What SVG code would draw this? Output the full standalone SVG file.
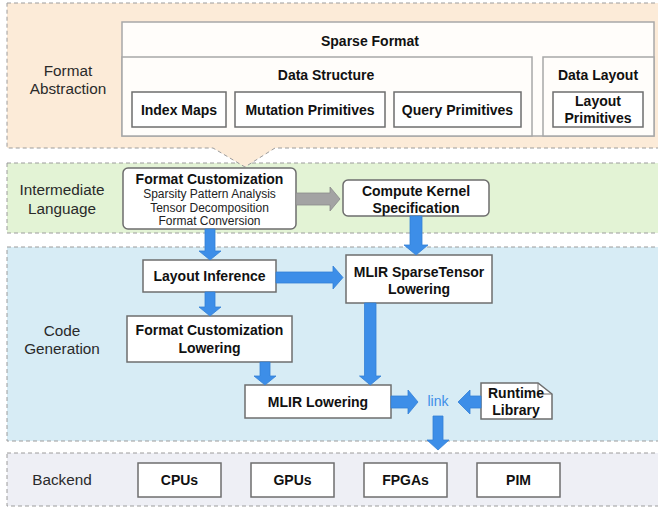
<svg xmlns="http://www.w3.org/2000/svg" width="658" height="510" viewBox="0 0 658 510">
  <style>
    .band { stroke: #9c9c9c; stroke-width: 1; stroke-dasharray: 4 3; }
    .box { fill: #ffffff; stroke: #6e6e6e; stroke-width: 1.5; }
    .frame { fill: #fffdfa; stroke: #a8a8a8; stroke-width: 1.5; }
    .lbl { font-family: "Liberation Sans", Arial, sans-serif; font-size: 14px; font-weight: bold; fill: #111; text-anchor: middle; }
    .sub { font-family: "Liberation Sans", Arial, sans-serif; font-size: 12px; fill: #222; text-anchor: middle; }
    .sec { font-family: "Liberation Sans", Arial, sans-serif; font-size: 15.3px; fill: #2a2a2a; text-anchor: middle; }
    .blue { fill: #3d8ee8; stroke: #3380d6; stroke-width: 0.8; }
    .gray { fill: #a3a3a3; stroke: #8a8a8a; stroke-width: 0.8; }
    .link { font-family: "Liberation Sans", Arial, sans-serif; font-size: 14px; fill: #3d8ee8; text-anchor: middle; }
  </style>

  <!-- layer bands -->
  <g id="bands">
    <rect class="band" x="7" y="163" width="660" height="70" fill="#e3f3d5"/>
    <path class="band" d="M7,3 H667 V148 H275 L245,167 L213,148 H7 Z" fill="#fcebd8"/>
    <rect class="band" x="7" y="247" width="660" height="194" fill="#d7ecf5"/>
    <rect class="band" x="7" y="453" width="660" height="53" fill="#eeeff5"/>
    <text class="sec" x="68" y="75.5">Format</text>
    <text class="sec" x="68" y="93.5">Abstraction</text>
    <text class="sec" x="62" y="194.5">Intermediate</text>
    <text class="sec" x="62" y="213.5">Language</text>
    <text class="sec" x="62" y="335.5">Code</text>
    <text class="sec" x="62" y="353.5">Generation</text>
    <text class="sec" x="62" y="484.5">Backend</text>
  </g>

  <!-- format abstraction -->
  <g id="sparse-format">
    <rect class="frame" x="122" y="22" width="532" height="114"/>
    <text class="lbl" x="370" y="45.5">Sparse Format</text>
  </g>
  <g id="data-structure">
    <rect class="frame" x="122" y="57" width="410" height="79"/>
    <text class="lbl" x="326" y="80">Data Structure</text>
  </g>
  <g id="data-layout">
    <rect class="frame" x="543" y="57" width="111" height="79"/>
    <text class="lbl" x="598" y="80">Data Layout</text>
  </g>
  <g id="index-maps">
    <rect class="box" x="132" y="92" width="94" height="35"/>
    <text class="lbl" x="179" y="115">Index Maps</text>
  </g>
  <g id="mutation-primitives">
    <rect class="box" x="235" y="92" width="150" height="35"/>
    <text class="lbl" x="310" y="115">Mutation Primitives</text>
  </g>
  <g id="query-primitives">
    <rect class="box" x="394" y="92" width="127" height="35"/>
    <text class="lbl" x="457.5" y="115">Query Primitives</text>
  </g>
  <g id="layout-primitives">
    <rect class="box" x="553" y="92" width="90" height="35"/>
    <text class="lbl" x="598" y="106">Layout</text>
    <text class="lbl" x="598" y="123">Primitives</text>
  </g>

  <!-- intermediate language -->
  <g id="format-customization">
    <rect class="box" x="123" y="168" width="173" height="61" rx="5"/>
    <text class="lbl" x="209.5" y="184">Format Customization</text>
    <text class="sub" x="209.5" y="198">Sparsity Pattern Analysis</text>
    <text class="sub" x="209.5" y="211.5">Tensor Decomposition</text>
    <text class="sub" x="209.5" y="225">Format Conversion</text>
  </g>
  <g id="compute-kernel">
    <rect class="box" x="343" y="180" width="146" height="36" rx="5"/>
    <text class="lbl" x="416" y="196">Compute Kernel</text>
    <text class="lbl" x="416" y="213">Specification</text>
  </g>

  <!-- code generation -->
  <g id="layout-inference">
    <rect class="box" x="143" y="260" width="133" height="32"/>
    <text class="lbl" x="209.5" y="281">Layout Inference</text>
  </g>
  <g id="mlir-sparsetensor">
    <rect class="box" x="346" y="255" width="146" height="48"/>
    <text class="lbl" x="419" y="277">MLIR SparseTensor</text>
    <text class="lbl" x="419" y="294">Lowering</text>
  </g>
  <g id="format-customization-lowering">
    <rect class="box" x="127" y="316" width="165" height="46"/>
    <text class="lbl" x="209.5" y="335">Format Customization</text>
    <text class="lbl" x="209.5" y="353">Lowering</text>
  </g>
  <g id="mlir-lowering">
    <rect class="box" x="245" y="385" width="146" height="33"/>
    <text class="lbl" x="318" y="407">MLIR Lowering</text>
  </g>
  <g id="link">
    <text class="link" x="438" y="406">link</text>
  </g>
  <g id="runtime-library">
    <path class="box" d="M481,383 H538 L552,394 V419 H481 Z"/>
    <path d="M538,383 V394 H552" fill="none" stroke="#6e6e6e" stroke-width="1"/>
    <text class="lbl" x="516" y="398">Runtime</text>
    <text class="lbl" x="516" y="415">Library</text>
  </g>

  <!-- backend -->
  <g id="cpus">
    <rect class="box" x="138" y="463" width="83" height="34"/>
    <text class="lbl" x="179.5" y="485">CPUs</text>
  </g>
  <g id="gpus">
    <rect class="box" x="251" y="463" width="83" height="34"/>
    <text class="lbl" x="292.5" y="485">GPUs</text>
  </g>
  <g id="fpgas">
    <rect class="box" x="364" y="463" width="83" height="34"/>
    <text class="lbl" x="405.5" y="485">FPGAs</text>
  </g>
  <g id="pim">
    <rect class="box" x="477" y="463" width="83" height="34"/>
    <text class="lbl" x="518.5" y="485">PIM</text>
  </g>

  <!-- connectors (block arrows) -->
  <g id="connectors">
    <polygon class="gray" points="296,193 330,193 330,187 340,199 330,211 330,205 296,205"/>
    <polygon class="blue" points="205,229 215,229 215,251 221,251 210,260 199,251 205,251"/>
    <polygon class="blue" points="410,216 422,216 422,245 428,245 416,255 404,245 410,245"/>
    <polygon class="blue" points="276,272 333,272 333,266 343,277.5 333,289 333,283 276,283"/>
    <polygon class="blue" points="205,292 215,292 215,307 221,307 210,316 199,307 205,307"/>
    <polygon class="blue" points="260,362 270,362 270,376 276,376 265,385 254,376 260,376"/>
    <polygon class="blue" points="364.5,303 376,303 376,376 381,376 370.25,385 359.5,376 364.5,376"/>
    <polygon class="blue" points="391,396 408,396 408,390 418,402 408,414 408,408 391,408"/>
    <polygon class="blue" points="481,396 470,396 470,390 458,402 470,414 470,408 481,408"/>
    <polygon class="blue" points="433,416 443,416 443,440 449,440 438,450 427,440 433,440"/>
  </g>
</svg>
